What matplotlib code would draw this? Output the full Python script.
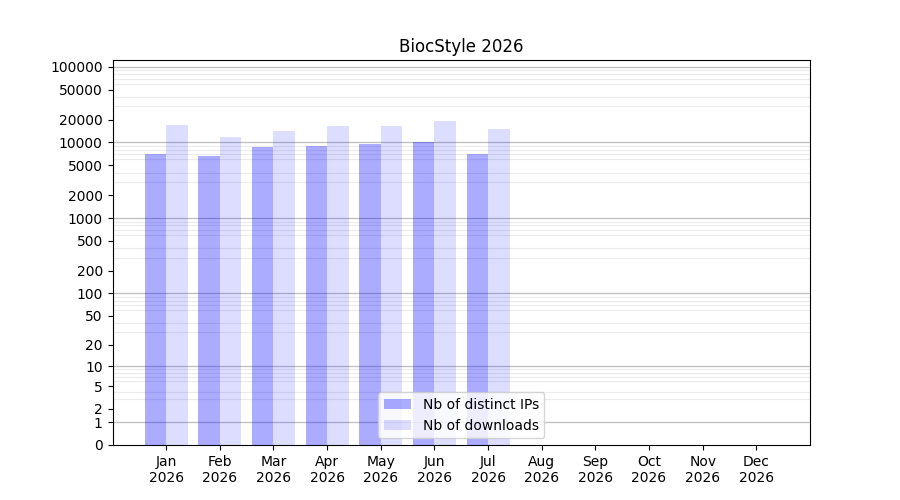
import numpy as np
import matplotlib
matplotlib.use('Agg')
import matplotlib.pyplot as plt
from matplotlib.ticker import FixedLocator, FixedFormatter

title = 'BiocStyle 2026'
months = ['Jan', 'Feb', 'Mar', 'Apr', 'May', 'Jun',
          'Jul', 'Aug', 'Sep', 'Oct', 'Nov', 'Dec']
year = '2026'
nb_ips = [7000, 6600, 8650, 8950, 9500, 10100, 7000, 0, 0, 0, 0, 0]
nb_downloads = [17000, 11750, 14100, 16450, 16450, 19150, 15000, 0, 0, 0, 0, 0]
tick_values = [0, 1, 2, 5, 10, 20, 50, 100, 200, 500, 1000, 2000, 5000,
               10000, 20000, 50000, 100000]
decades = [1, 10, 100, 1000, 10000, 100000]


def forward(y):
    return np.log10(np.asarray(y, dtype=float) + 1)


def inverse(y):
    return 10 ** np.asarray(y, dtype=float) - 1


fig, ax = plt.subplots(figsize=(9, 5), dpi=100)
x = np.arange(1, len(months) + 1)
width = 0.4

ax.set_yscale('function', functions=(forward, inverse))
ax.bar(x - width / 2, nb_ips, width, color='blue', alpha=0.33,
       label='Nb of distinct IPs', zorder=2)
ax.bar(x + width / 2, nb_downloads, width, color='blue', alpha=0.135,
       label='Nb of downloads', zorder=2)

ax.yaxis.set_major_locator(FixedLocator(tick_values))
ax.yaxis.set_major_formatter(FixedFormatter([str(v) for v in tick_values]))
minor = [k * d for d in decades for k in range(1, 10)]
ax.yaxis.set_minor_locator(FixedLocator(minor))
ax.tick_params(axis='y', which='minor', length=0)
ax.grid(which='minor', axis='y', color='0.92', linewidth=0.8, zorder=1)
for d in decades:
    ax.axhline(d, color='0.75', linewidth=0.9, zorder=1)

ax.set_ylim(0, inverse(5.09))
ax.set_xlim(0, len(months) + 1)
ax.set_xticks(x)
ax.set_xticklabels([m + '\n' + year for m in months])
ax.set_title(title)
ax.legend(loc='lower center')

fig.savefig('out.png')
